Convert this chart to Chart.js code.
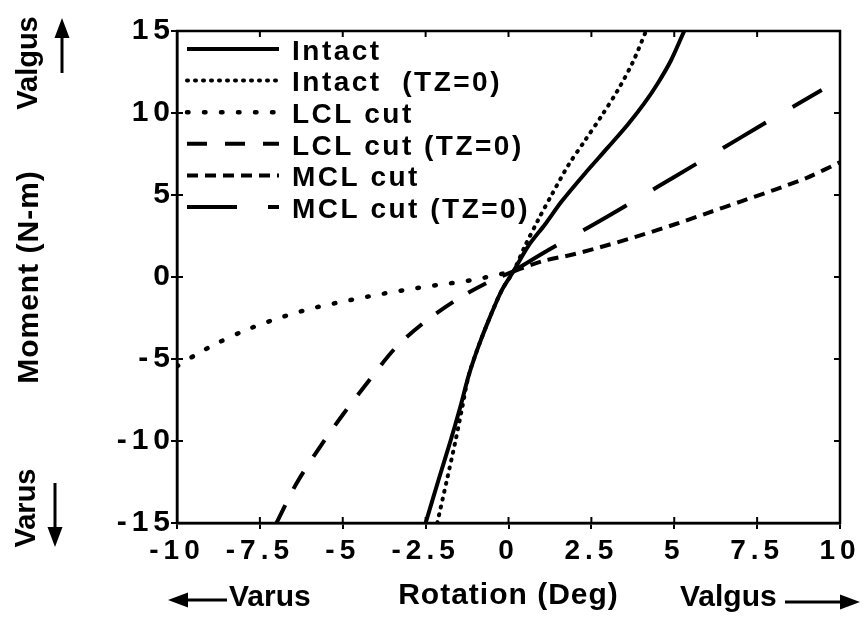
<!DOCTYPE html>
<html>
<head>
<meta charset="utf-8">
<style>
  html, body { margin: 0; padding: 0; background: #fff; }
  #wrap { width: 866px; height: 621px; }
</style>
</head>
<body>
<div id="wrap"><canvas id="grafico"></canvas></div>
<script src="https://cdn.jsdelivr.net/npm/chart.js@4.4.1/dist/chart.umd.min.js"></script>
<script>
// rotation (deg) on x, moment (N-m) on y
const xTicks = [-10, -7.5, -5, -2.5, 0, 2.5, 5, 7.5, 10];
const yTicks = [-15, -10, -5, 0, 5, 10, 15];

const intactX = [-2.5, -2.1, -1.75, -1.45, -1.2, -0.9, -0.55, -0.2, 0.15, 0.6, 1.1, 1.6, 2.3, 3.0, 3.6, 4.1, 4.5, 4.9, 5.3];
const intactY = [-15, -12.3, -10, -7.9, -6, -4.2, -2.4, -0.8, 0.35, 1.9, 3.2, 4.6, 6.3, 7.9, 9.3, 10.6, 11.8, 13.2, 15];

const intactTzX = [-2.15, -1.85, -1.6, -1.4, -1.2, -0.9, -0.55, -0.2, 0.15, 0.5, 0.9, 1.3, 1.8, 2.3, 2.8, 3.3, 3.75, 4.15];
const intactTzY = [-15, -12.3, -10, -8, -6, -4.2, -2.4, -0.8, 0.35, 1.9, 3.5, 5.0, 6.8, 8.3, 9.8, 11.4, 13.1, 15];

const lclX = [-10, -9.4, -8.8, -8.0, -7.0, -6.0, -5.0, -4.0, -3.0, -2.0, -1.0, 0.15];
const lclY = [-5.45, -4.7, -4.05, -3.3, -2.55, -1.95, -1.5, -1.1, -0.75, -0.45, -0.15, 0.35];

const lclTzX = [-7.0, -6.4, -5.7, -5.0, -4.2, -3.4, -2.5, -1.5, -0.6, 0.15];
const lclTzY = [-15, -12.6, -10.4, -8.4, -6.3, -4.3, -2.7, -1.3, -0.3, 0.35];

const mclX = [0.15, 1.0, 2.0, 3.0, 4.0, 5.0, 6.0, 7.0, 8.0, 9.0, 10];
const mclY = [0.35, 0.95, 1.4, 1.95, 2.55, 3.2, 3.9, 4.6, 5.3, 6.05, 7.0];

const mclTzX = [0.15, 1.0, 2.0, 3.0, 4.0, 5.0, 6.0, 7.0, 8.0, 9.45];
const mclTzY = [0.35, 1.4, 2.55, 3.7, 4.9, 6.1, 7.3, 8.5, 9.7, 11.4];

const seriesNames = ['Intact', 'Intact  (TZ=0)', 'LCL cut', 'LCL cut (TZ=0)', 'MCL cut', 'MCL cut (TZ=0)'];
const seriesX = [intactX, intactTzX, lclX, lclTzX, mclX, mclTzX];
const seriesY = [intactY, intactTzY, lclY, lclTzY, mclY, mclTzY];

// line looks, one per series
const looks = [
  { borderWidth: 4, borderDash: [], borderCapStyle: 'butt' },
  { borderWidth: 4, borderDash: [1, 7], borderCapStyle: 'round' },
  { borderWidth: 4.5, borderDash: [1.5, 15.5], borderCapStyle: 'round' },
  { borderWidth: 4, borderDash: [20, 18], borderCapStyle: 'butt' },
  { borderWidth: 4, borderDash: [11, 7], borderCapStyle: 'butt' },
  { borderWidth: 4, borderDash: [50, 31], borderCapStyle: 'butt' }
];

const FONT = "'Liberation Sans', Arial, Helvetica, sans-serif";
Chart.defaults.font.family = FONT;
Chart.defaults.font.weight = 'bold';
Chart.defaults.color = '#000';

function pts(xs, ys) {
  return xs.map((x, i) => ({ x: x, y: ys[i] }));
}

function arrow(ctx, x1, y1, x2, y2) {
  // shaft from (x1,y1) to the tip (x2,y2)
  const ang = Math.atan2(y2 - y1, x2 - x1);
  const len = 20, half = 7.5;
  const bx = x2 - len * Math.cos(ang), by = y2 - len * Math.sin(ang);
  ctx.beginPath();
  ctx.moveTo(x1, y1);
  ctx.lineTo(bx + 2 * Math.cos(ang), by + 2 * Math.sin(ang));
  ctx.stroke();
  ctx.beginPath();
  ctx.moveTo(x2, y2);
  ctx.lineTo(bx + half * Math.sin(ang), by - half * Math.cos(ang));
  ctx.lineTo(bx - half * Math.sin(ang), by + half * Math.cos(ang));
  ctx.closePath();
  ctx.fill();
}

const frame = {
  id: 'frame',
  beforeDraw(chart) {
    // axis titles are drawn before the datasets
    chart.ctx.letterSpacing = '1px';
  },
  afterDatasetsDraw(chart) {
    const { ctx, chartArea: a, scales: { x, y } } = chart;
    ctx.save();
    ctx.strokeStyle = '#000';
    ctx.lineWidth = 2.5;
    ctx.strokeRect(a.left, a.top, a.right - a.left, a.bottom - a.top);
    ctx.lineWidth = 2;
    ctx.beginPath();
    x.ticks.forEach(t => {
      const p = x.getPixelForValue(t.value);
      ctx.moveTo(p, a.top); ctx.lineTo(p, a.top + 6);
      ctx.moveTo(p, a.bottom); ctx.lineTo(p, a.bottom - 6);
    });
    y.ticks.forEach(t => {
      const p = y.getPixelForValue(t.value);
      ctx.moveTo(a.left, p); ctx.lineTo(a.left + 6, p);
      ctx.moveTo(a.right, p); ctx.lineTo(a.right - 6, p);
    });
    ctx.stroke();
    ctx.restore();
    // tick labels (z: 1) come after this and are spaced out like the original
    ctx.letterSpacing = '5px';
  },
  afterDraw(chart) {
    const { ctx, chartArea: a } = chart;
    ctx.letterSpacing = '0px';

    // legend in the upper left corner
    ctx.save();
    ctx.fillStyle = '#000';
    ctx.strokeStyle = '#000';
    ctx.font = 'bold 28px ' + FONT;
    ctx.textBaseline = 'middle';
    ctx.letterSpacing = '2.5px';
    chart.data.datasets.forEach((ds, i) => {
      const yy = a.top + 18 + i * 31.6;
      ctx.lineWidth = ds.borderWidth;
      ctx.lineCap = ds.borderCapStyle;
      ctx.setLineDash(ds.borderDash);
      ctx.beginPath();
      ctx.moveTo(a.left + 10, yy);
      ctx.lineTo(a.left + 102, yy);
      ctx.stroke();
      ctx.setLineDash([]);
      ctx.fillText(ds.label, a.left + 115, yy + 3);
    });
    ctx.restore();

    // direction hints beside the axes
    ctx.save();
    ctx.fillStyle = '#000';
    ctx.strokeStyle = '#000';
    ctx.lineWidth = 3;
    ctx.font = 'bold 29px ' + FONT;
    ctx.textBaseline = 'middle';
    ctx.textAlign = 'center';
    ctx.save();
    ctx.translate(29, 63);
    ctx.rotate(-Math.PI / 2);
    ctx.fillText('Valgus', 0, 0);
    ctx.restore();
    arrow(ctx, 62, 73, 62, 18);
    ctx.save();
    ctx.translate(27, 508);
    ctx.rotate(-Math.PI / 2);
    ctx.fillText('Varus', 0, 0);
    ctx.restore();
    arrow(ctx, 55, 483, 55, 547);

    const by = 598;
    ctx.font = 'bold 30px ' + FONT;
    ctx.textAlign = 'left';
    ctx.fillText('Varus', 229, by);
    arrow(ctx, 227, by + 2, 168, by + 2);
    ctx.fillText('Valgus', 680, by);
    arrow(ctx, 785, by + 4, 860, by + 4);
    ctx.restore();
  }
};

new Chart(document.getElementById('grafico'), {
  type: 'scatter',
  data: {
    datasets: seriesNames.map((name, i) => ({
      label: name,
      data: pts(seriesX[i], seriesY[i]),
      showLine: true,
      borderColor: '#000',
      backgroundColor: '#000',
      fill: false,
      pointRadius: 0,
      tension: 0.3,
      ...looks[i]
    }))
  },
  options: {
    responsive: true,
    maintainAspectRatio: false,
    animation: false,
    layout: { padding: { top: 31, right: 26, left: 0, bottom: 0 } },
    plugins: {
      legend: { display: false },
      tooltip: { enabled: false }
    },
    scales: {
      x: {
        type: 'linear',
        min: -10,
        max: 10,
        afterBuildTicks: s => { s.ticks = xTicks.map(v => ({ value: v })); },
        afterFit: s => { s.height = 98; },
        border: { display: true, color: '#000', width: 2.5 },
        grid: { drawOnChartArea: false, drawTicks: true, tickLength: 6, color: '#000', lineWidth: 2 },
        ticks: { z: 1, padding: 5, font: { size: 28 }, color: '#000', maxRotation: 0, autoSkip: false },
        title: { display: true, text: 'Rotation (Deg)', font: { size: 30 }, padding: { top: 0, bottom: 7 } }
      },
      y: {
        type: 'linear',
        min: -15,
        max: 15,
        afterBuildTicks: s => { s.ticks = yTicks.map(v => ({ value: v })); },
        afterFit: s => { s.width = 177; },
        border: { display: true, color: '#000', width: 2.5 },
        grid: { drawOnChartArea: false, drawTicks: true, tickLength: 6, color: '#000', lineWidth: 2 },
        ticks: { z: 1, padding: -4, font: { size: 30 }, color: '#000', autoSkip: false },
        title: { display: true, text: 'Moment (N-m)', font: { size: 30 }, padding: { top: 12, bottom: 0 } }
      }
    }
  },
  plugins: [frame]
});
</script>
</body>
</html>
